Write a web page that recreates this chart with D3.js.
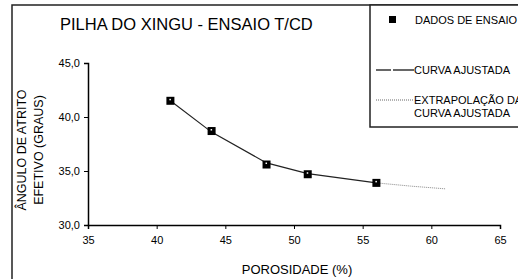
<!DOCTYPE html>
<html>
<head>
<meta charset="utf-8">
<script src="https://cdn.jsdelivr.net/npm/d3@7"></script>
<style>
  body { margin: 0; background: #fff; }
  svg { display: block; font-family: "Liberation Sans", Arial, sans-serif; }
</style>
</head>
<body>
<svg id="chart" width="518" height="279"></svg>
<script>
// dados
var porosidade = [41, 44, 48, 51, 56];
var angulo = [41.5, 38.7, 35.6, 34.7, 33.9];
// curva ajustada e extrapolação
var curvaX = [41, 44, 48, 51, 56];
var curvaY = [41.5, 38.6, 35.75, 34.75, 33.9];
var extrapX = [56, 58.5, 61];
var extrapY = [33.9, 33.6, 33.35];
var xTicks = [35, 40, 45, 50, 55, 60, 65];
var yTicks = [30, 35, 40, 45];

var svg = d3.select("#chart");

// moldura externa
svg.append("rect")
  .attr("x", 12).attr("y", 5)
  .attr("width", 520).attr("height", 290)
  .attr("fill", "none").attr("stroke", "#222").attr("stroke-width", 1.5);

var x = d3.scaleLinear().domain([35, 65]).range([88, 500]);
var y = d3.scaleLinear().domain([30, 45]).range([225, 63]);

// eixo x
var gx = svg.append("g")
  .attr("transform", "translate(0,225)")
  .call(d3.axisBottom(x).tickValues(xTicks).tickSize(4).tickPadding(7).tickFormat(d3.format("d")));
gx.select(".domain").attr("stroke", "#000").attr("stroke-width", 1.5);
gx.selectAll("text").attr("font-size", "11px").attr("fill", "#000")
  .attr("font-family", "Liberation Sans, Arial, sans-serif");

// eixo y
var gy = svg.append("g")
  .attr("transform", "translate(88,0)")
  .call(d3.axisLeft(y).tickValues(yTicks).tickSize(4).tickPadding(4)
    .tickFormat(function(d) { return d3.format(".1f")(d).replace(".", ","); }));
gy.select(".domain").attr("stroke", "#000").attr("stroke-width", 1.5);
gy.selectAll("text").attr("font-size", "11px").attr("fill", "#000")
  .attr("font-family", "Liberation Sans, Arial, sans-serif");

// titulo
svg.append("text")
  .attr("x", 60).attr("y", 30)
  .attr("font-size", "16.5px").attr("fill", "#000")
  .text("PILHA DO XINGU - ENSAIO T/CD");

// rotulos dos eixos
svg.append("text")
  .attr("x", 297).attr("y", 274)
  .attr("text-anchor", "middle").attr("font-size", "13px")
  .text("POROSIDADE (%)");

var ylab = svg.append("text")
  .attr("transform", "translate(26,150) rotate(-90)")
  .attr("text-anchor", "middle").attr("font-size", "12.5px");
ylab.append("tspan").attr("x", 0).attr("y", 0).text("ÂNGULO DE ATRITO");
ylab.append("tspan").attr("x", 0).attr("y", 17).text("EFETIVO (GRAUS)");

// curva ajustada
var line = d3.line()
  .x(function(d) { return x(d[0]); })
  .y(function(d) { return y(d[1]); });

svg.append("path")
  .datum(d3.zip(curvaX, curvaY))
  .attr("d", line)
  .attr("fill", "none").attr("stroke", "#222").attr("stroke-width", 1.2);

svg.append("path")
  .datum(d3.zip(extrapX, extrapY))
  .attr("d", line)
  .attr("fill", "none").attr("stroke", "#888").attr("stroke-width", 1)
  .attr("stroke-dasharray", "1,1");

// pontos
var pts = svg.append("g").selectAll("g")
  .data(d3.zip(porosidade, angulo))
  .enter().append("g")
  .attr("transform", function(d) { return "translate(" + x(d[0]) + "," + y(d[1]) + ")"; });
pts.append("rect")
  .attr("x", -4).attr("y", -4).attr("width", 8).attr("height", 8)
  .attr("fill", "#000");
pts.append("rect")
  .attr("x", -1).attr("y", -2).attr("width", 1.5).attr("height", 1.5)
  .attr("fill", "#fff");

// legenda
svg.append("rect")
  .attr("x", 370).attr("y", 5)
  .attr("width", 160).attr("height", 122)
  .attr("fill", "#fff").attr("stroke", "#222").attr("stroke-width", 1.5);

svg.append("rect")
  .attr("x", 389).attr("y", 16).attr("width", 7).attr("height", 7).attr("fill", "#000");
svg.append("text").attr("x", 415).attr("y", 24).attr("font-size", "11px").text("DADOS DE ENSAIO");

svg.append("line").attr("x1", 376).attr("x2", 391).attr("y1", 70).attr("y2", 70)
  .attr("stroke", "#000").attr("stroke-width", 1.2);
svg.append("line").attr("x1", 393).attr("x2", 414).attr("y1", 70).attr("y2", 70)
  .attr("stroke", "#000").attr("stroke-width", 1.2);
svg.append("text").attr("x", 414).attr("y", 74).attr("font-size", "11px").text("CURVA AJUSTADA");

svg.append("line").attr("x1", 376).attr("x2", 414).attr("y1", 100).attr("y2", 100)
  .attr("stroke", "#666").attr("stroke-width", 1).attr("stroke-dasharray", "1,1");
svg.append("text").attr("x", 414).attr("y", 104).attr("font-size", "11px").text("EXTRAPOLAÇÃO DA");
svg.append("text").attr("x", 414).attr("y", 117).attr("font-size", "11px").text("CURVA AJUSTADA");
</script>
</body>
</html>
